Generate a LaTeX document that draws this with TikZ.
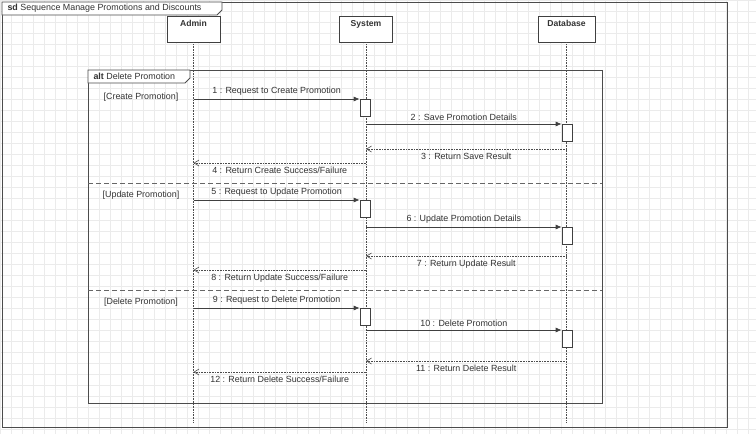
\documentclass[tikz,border=0pt]{standalone}
\usepackage{fontspec}
\setmainfont{Liberation Sans}
\usetikzlibrary{arrows.meta,calc}

\begin{document}
\begin{tikzpicture}[x=1pt, y=-1pt,
		every node/.style={font=\fontsize{8.9}{10}\selectfont, text=black!80},
		head/.style={draw=black!75, line width=0.8pt, fill=white, minimum width=53pt, minimum height=26pt, text depth=11pt, font=\fontsize{8.6}{10}\selectfont\bfseries},
		life/.style={black!70, densely dotted, line width=0.6pt},
		act/.style={draw=black!75, line width=0.7pt, fill=white, minimum width=10pt, minimum height=17pt, inner sep=0pt, anchor=north},
		msg/.style={black!75, line width=0.7pt, -{Latex[length=6pt,width=5pt]}},
		ret/.style={black!70, densely dotted, line width=0.6pt, -{Straight Barb[length=5pt,width=6pt]}},
		frame/.style={draw=black!70, line width=0.8pt},
		sep/.style={black!60, dashed, dash pattern=on 5pt off 3pt, line width=0.8pt}]
		%%%%% START %%%%%
		
		\useasboundingbox (0, 0) rectangle (756, 434);
		\fill[white] (0, 0) rectangle (756, 434);
		\foreach \gx in {0, 11, ..., 756}
			\draw[black!8, line width=0.4pt] (\gx, 0) -- (\gx, 434);
		\foreach \gy in {0, 11, ..., 434}
			\draw[black!8, line width=0.4pt] (0, \gy) -- (756, \gy);
		
		% sd frame
		\draw[frame] (2, 2) rectangle (727, 427);
		\draw[frame, fill=white] (2, 2) -- (222, 2) -- (222, 10) -- (217, 15) -- (2, 15) -- cycle;
		\node[anchor=west] (sdtitle) at (4, 8.5) {\textbf{sd} Sequence Manage Promotions and Discounts};
		
		% lifelines
		\coordinate (bottom) at (0, 422);
		\node[head] (admin) at (193.5, 29) {Admin};
		\node[head] (system) at (366, 29) {System};
		\node[head, minimum width=57pt] (database) at (566.5, 29) {Database};
		\foreach \who in {admin, system, database}
			\draw[life] (\who.south) -- (\who.south |- bottom);
		
		% alt frame
		\draw[frame] (88, 70) rectangle (602, 403);
		\draw[frame, fill=white] (88, 70) -- (190, 70) -- (190, 78) -- (185, 83) -- (88, 83) -- cycle;
		\node[anchor=west] (alttitle) at (90, 76.5) {\textbf{alt} Delete Promotion};
		\draw[sep] (88, 183) -- (602, 183);
		\draw[sep] (88, 290) -- (602, 290);
		
		% guards
		\node (gcreate) at (141, 97) {[Create Promotion]};
		\node (gupdate) at (141, 195) {[Update Promotion]};
		\node (gdelete) at (141, 302) {[Delete Promotion]};
		
		% activations
		\node[act] (act1) at (365, 99) {};
		\node[act] (act2) at (567, 124) {};
		\node[act] (act5) at (365, 200) {};
		\node[act] (act6) at (567, 227) {};
		\node[act] (act9) at (365, 308) {};
		\node[act] (act10) at (567, 330) {};
		
		% return points
		\coordinate (r3) at (566.5, 149);
		\coordinate (r4) at (366, 163);
		\coordinate (r7) at (566.5, 256);
		\coordinate (r8) at (366, 270);
		\coordinate (r11) at (566.5, 361);
		\coordinate (r12) at (366, 372);
		
		% create
		\draw[msg] (admin |- act1.north) -- node[above] {1 : Request to Create Promotion} (act1.north west);
		\draw[msg] (system |- act2.north) -- node[above] {2 : Save Promotion Details} (act2.north west);
		\draw[ret] (r3) -- node[below] {3 : Return Save Result} (system |- r3);
		\draw[ret] (r4) -- node[below] {4 : Return Create Success/Failure} (admin |- r4);
		
		% update
		\draw[msg] (admin |- act5.north) -- node[above] {5 : Request to Update Promotion} (act5.north west);
		\draw[msg] (system |- act6.north) -- node[above] {6 : Update Promotion Details} (act6.north west);
		\draw[ret] (r7) -- node[below] {7 : Return Update Result} (system |- r7);
		\draw[ret] (r8) -- node[below] {8 : Return Update Success/Failure} (admin |- r8);
		
		% delete
		\draw[msg] (admin |- act9.north) -- node[above] {9 : Request to Delete Promotion} (act9.north west);
		\draw[msg] (system |- act10.north) -- node[above] {10 : Delete Promotion} (act10.north west);
		\draw[ret] (r11) -- node[below] {11 : Return Delete Result} (system |- r11);
		\draw[ret] (r12) -- node[below] {12 : Return Delete Success/Failure} (admin |- r12);
		
		%%%%% END %%%%%
\end{tikzpicture}
\end{document}
